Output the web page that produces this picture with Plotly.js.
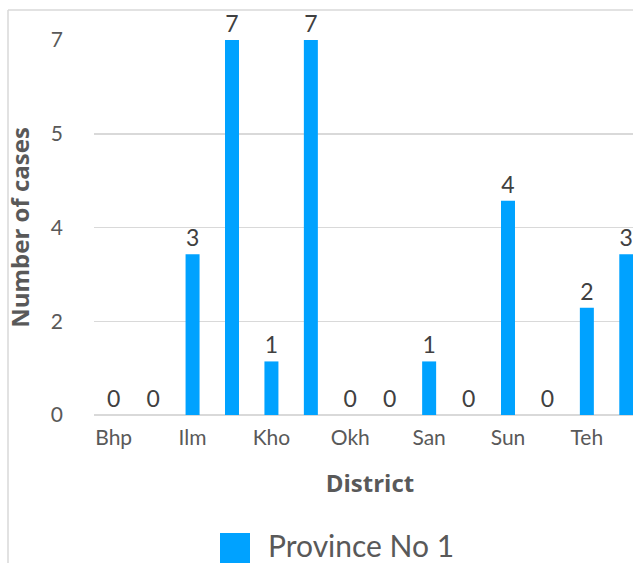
<!DOCTYPE html>
<html><head><meta charset="utf-8">
<script src="https://cdn.plot.ly/plotly-3.0.1.min.js"></script>
<style>html,body{margin:0;padding:0;overflow:hidden;background:#fff;width:633px;height:563px}</style>
</head><body><div id="chart" style="width:650px;height:563px"></div>
<script>
const districts = ["Bhp","Dha","Ilm","Jha","Kho","Mor","Okh","Pan","San","Sol","Sun","Tap","Teh","Uda"];
const cases = [0,0,3,7,1,7,0,0,1,0,4,0,2,3];
const seriesName = "Province No 1";
const yTickVals = [0,1.75,3.5,5.25,7];
const yTickText = ["0","2","4","5","7"];

const FONT = "Lato, 'Open Sans', sans-serif";
const TFONT = "'Open Sans', sans-serif";
const TXT = "#595959";
const COLOR = "#00a2ff";
const W = 650, H = 563, L = 94, R = 4, T = 40, B = 148;
const pw = W - L - R, ph = H - T - B;
const px = v => (v - L) / pw;
const py = v => (H - B - v) / ph;

const trace = {
  type: "bar", x: districts, y: cases, name: seriesName,
  marker: {color: COLOR},
  text: cases.map(String), textposition: "outside", cliponaxis: false,
  textfont: {family: FONT, size: 23, color: "#404040"},
  showlegend: false, hoverinfo: "x+y"
};

const layout = {
  width: W, height: H,
  margin: {l: L, r: R, t: T, b: B, pad: 0},
  paper_bgcolor: "#fff", plot_bgcolor: "#fff",
  bargap: 0.645,
  font: {family: FONT, color: TXT, size: 21},
  xaxis: {
    type: "category", tickmode: "linear", tick0: 0, dtick: 2,
    showgrid: false, showline: false, zeroline: false, ticks: "",
    ticklabelstandoff: 8,
    tickfont: {family: FONT, size: 21, color: TXT},
    title: {text: "District", font: {family: TFONT, size: 24, color: TXT, weight: "bold"}, standoff: 27}
  },
  yaxis: {
    range: [0, 7], tickmode: "array", tickvals: yTickVals, ticktext: yTickText,
    showgrid: true, gridcolor: "#d9d9d9", gridwidth: 1.5,
    zeroline: true, zerolinecolor: "#d9d9d9", zerolinewidth: 2,
    showline: false, ticks: "", ticklabelstandoff: 30,
    tickfont: {family: FONT, size: 21, color: TXT},
    title: {text: "Number of cases", font: {family: TFONT, size: 24, color: TXT, weight: "bold"}, standoff: 14}
  },
  shapes: [
    {type: "line", xref: "paper", yref: "paper", x0: px(8), x1: px(8), y0: py(10), y1: py(563), line: {color: "#d9d9d9", width: 1.5}},
    {type: "line", xref: "paper", yref: "paper", x0: px(8), x1: px(650), y0: py(10), y1: py(10), line: {color: "#d9d9d9", width: 1.5}},
    {type: "rect", xref: "paper", yref: "paper", x0: px(220), x1: px(250), y0: py(563), y1: py(533), line: {width: 0}, fillcolor: COLOR}
  ],
  annotations: [
    {xref: "paper", yref: "paper", x: px(266), y: py(545), xanchor: "left", yanchor: "middle", showarrow: false,
     text: seriesName, font: {family: FONT, size: 30, color: TXT}}
  ]
};

Plotly.newPlot("chart", [trace], layout, {displayModeBar: false, staticPlot: true});
</script></body></html>
